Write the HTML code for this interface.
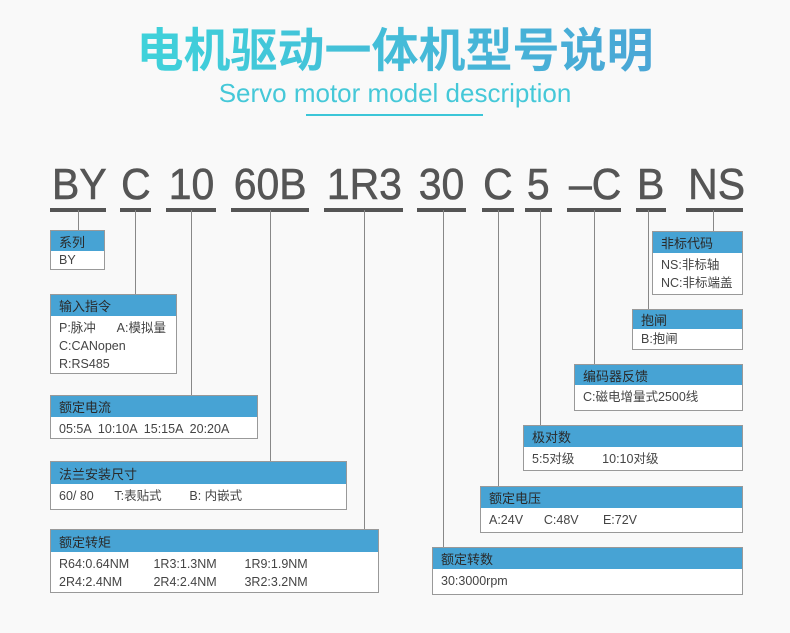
<!DOCTYPE html>
<html><head><meta charset="utf-8"><style>
body{margin:0;width:790px;height:633px;background:#f9f9f9;position:relative;overflow:hidden;font-family:"Liberation Sans","Noto Sans CJK SC",sans-serif;}
.t{position:absolute;left:0;width:790px;text-align:center;white-space:nowrap;}
.code{position:absolute;top:162px;font-size:44px;color:#555;line-height:46px;text-align:center;border-bottom:4px solid #555;white-space:nowrap;overflow:visible;}
.code span{display:inline-block;transform:scaleX(0.93);transform-origin:center;-webkit-text-stroke:0.6px #555;}
.v{position:absolute;width:1px;background:#888;}
.box{position:absolute;border:1px solid #999;background:#fff;box-sizing:border-box;}
.box .h{background:#47a3d4;color:#2a2a2a;font-size:13px;padding-left:8px;box-sizing:border-box;display:flex;align-items:center;}
.box .b{color:#444;font-size:12.5px;padding:3px 0 0 8px;line-height:18px;white-space:pre;}
</style></head><body>
<div class="t" style="top:23px;font-size:47px;font-weight:bold;line-height:56px;"><span style="background:linear-gradient(90deg,#3fd2da,#4aa6d6);-webkit-background-clip:text;background-clip:text;color:transparent;">电机驱动一体机型号说明</span></div>
<div class="t" style="top:78px;font-size:26px;color:#45c8d8;line-height:30px;">Servo motor model description</div>
<div style="position:absolute;left:306px;top:114px;width:177px;height:2px;background:#3cc6d8"></div>

<div class="code" style="left:50px;width:56px"><span>BY</span></div>
<div class="code" style="left:120px;width:31px"><span>C</span></div>
<div class="code" style="left:166px;width:50px"><span>10</span></div>
<div class="code" style="left:231px;width:78px"><span>60B</span></div>
<div class="code" style="left:324px;width:79px"><span>1R3</span></div>
<div class="code" style="left:417px;width:49px"><span>30</span></div>
<div class="code" style="left:482px;width:32px"><span>C</span></div>
<div class="code" style="left:525px;width:27px"><span>5</span></div>
<div class="code" style="left:567px;width:54px"><span>–C</span></div>
<div class="code" style="left:636px;width:30px"><span>B</span></div>
<div class="code" style="left:686px;width:57px"><span>NS</span></div>

<div class="v" style="left:78px;top:210px;height:20px"></div>
<div class="v" style="left:135px;top:210px;height:84px"></div>
<div class="v" style="left:191px;top:210px;height:185px"></div>
<div class="v" style="left:270px;top:210px;height:251px"></div>
<div class="v" style="left:364px;top:210px;height:319px"></div>
<div class="v" style="left:443px;top:210px;height:337px"></div>
<div class="v" style="left:498px;top:210px;height:276px"></div>
<div class="v" style="left:540px;top:210px;height:215px"></div>
<div class="v" style="left:594px;top:210px;height:154px"></div>
<div class="v" style="left:648px;top:210px;height:99px"></div>
<div class="v" style="left:713px;top:210px;height:21px"></div>

<div class="box" style="left:50px;top:230px;width:55px;height:40px"><div class="h" style="height:20px">系列</div><div class="b" style="padding-top:0">BY</div></div>
<div class="box" style="left:50px;top:294px;width:127px;height:80px"><div class="h" style="height:21px">输入指令</div><div class="b">P:脉冲      A:模拟量
C:CANopen
R:RS485</div></div>
<div class="box" style="left:50px;top:395px;width:208px;height:44px"><div class="h" style="height:21px">额定电流</div><div class="b">05:5A  10:10A  15:15A  20:20A</div></div>
<div class="box" style="left:50px;top:461px;width:297px;height:49px"><div class="h" style="height:22px">法兰安装尺寸</div><div class="b">60/ 80      T:表贴式        B: 内嵌式</div></div>
<div class="box" style="left:50px;top:529px;width:329px;height:64px"><div class="h" style="height:22px">额定转矩</div><div class="b">R64:0.64NM       1R3:1.3NM        1R9:1.9NM
2R4:2.4NM         2R4:2.4NM        3R2:3.2NM</div></div>

<div class="box" style="left:652px;top:231px;width:91px;height:64px"><div class="h" style="height:21px">非标代码</div><div class="b">NS:非标轴
NC:非标端盖</div></div>
<div class="box" style="left:632px;top:309px;width:111px;height:41px"><div class="h" style="height:19px">抱闸</div><div class="b" style="padding-top:1px">B:抱闸</div></div>
<div class="box" style="left:574px;top:364px;width:169px;height:47px"><div class="h" style="height:20px">编码器反馈</div><div class="b">C:磁电增量式2500线</div></div>
<div class="box" style="left:523px;top:425px;width:220px;height:46px"><div class="h" style="height:21px">极对数</div><div class="b">5:5对级        10:10对级</div></div>
<div class="box" style="left:480px;top:486px;width:263px;height:47px"><div class="h" style="height:21px">额定电压</div><div class="b">A:24V      C:48V       E:72V</div></div>
<div class="box" style="left:432px;top:547px;width:311px;height:48px"><div class="h" style="height:21px">额定转数</div><div class="b">30:3000rpm</div></div>
</body></html>
